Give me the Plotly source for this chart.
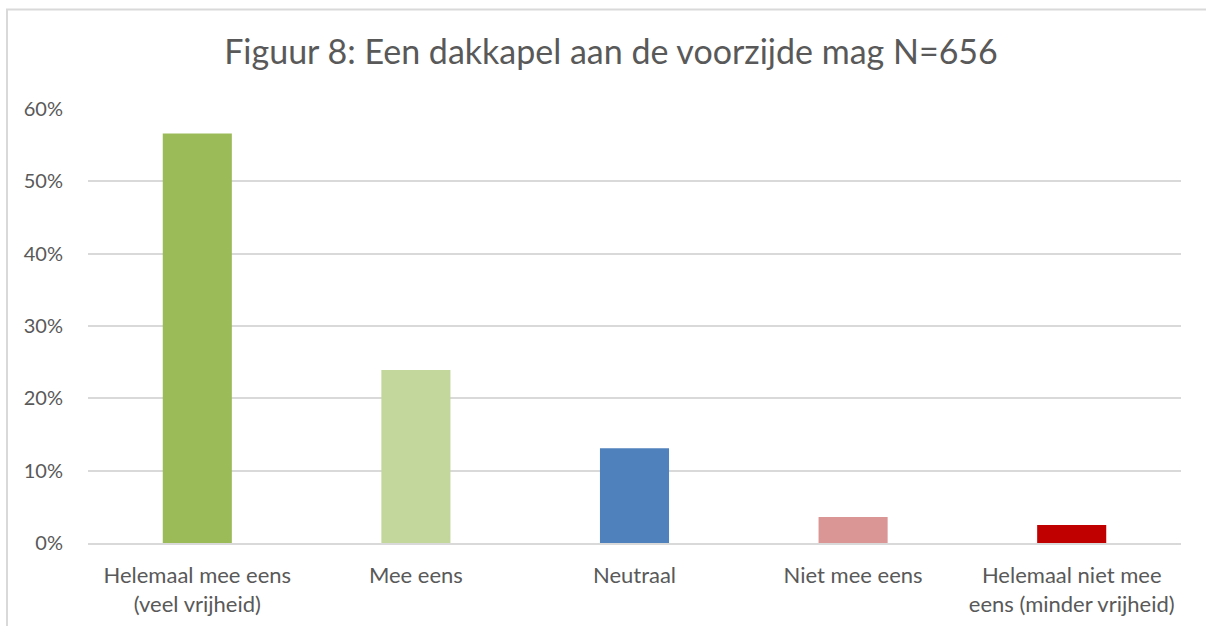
import plotly.graph_objects as go

categories = [
    "Helemaal mee eens<br>(veel vrijheid)",
    "Mee eens",
    "Neutraal",
    "Niet mee eens",
    "Helemaal niet mee<br>eens (minder vrijheid)",
]
shares = [0.566, 0.239, 0.131, 0.036, 0.025]
colors = ["#9BBB59", "#C3D69B", "#4F81BD", "#D99694", "#C00000"]
y_ticks = [0, 0.1, 0.2, 0.3, 0.4, 0.5, 0.6]

GREY = "#595959"
FONT = "Lato, Carlito, Calibri, sans-serif"

W, H = 1206, 626

fig = go.Figure(
    go.Bar(
        x=categories,
        y=shares,
        marker=dict(color=colors, line=dict(width=0)),
        hovertemplate="%{x}: %{y:.1%}<extra></extra>",
    )
)

fig.update_layout(
    width=W,
    height=H,
    margin=dict(l=88, r=25, t=109, b=83),
    paper_bgcolor="white",
    plot_bgcolor="white",
    bargap=0.684,
    showlegend=False,
    font=dict(family=FONT, color=GREY, size=20),
    title=dict(
        text="Figuur 8: Een dakkapel aan de voorzijde mag N=656",
        x=611 / W,
        xanchor="center",
        xref="container",
        y=1 - 52 / H,
        yanchor="middle",
        yref="container",
        font=dict(family=FONT, size=34, color=GREY),
    ),
    shapes=[
        # light grey chart frame (runs off the right and bottom edges)
        dict(
            type="rect",
            xref="paper",
            yref="paper",
            x0=(7 - 88) / 1093,
            x1=(1240 - 88) / 1093,
            y0=(543 - 700) / 434,
            y1=(543 - 9.5) / 434,
            line=dict(color="#D9D9D9", width=2),
            layer="below",
        )
    ],
)

fig.update_yaxes(
    range=[0, 0.6],
    tickvals=y_ticks,
    tickformat=".0%",
    showgrid=True,
    gridcolor="#D9D9D9",
    gridwidth=1.5,
    zeroline=False,
    showline=False,
    ticks="",
    ticklabelstandoff=24,
    tickfont=dict(size=20, color=GREY),
    automargin=False,
)
fig.update_xaxes(
    showline=True,
    linecolor="#D9D9D9",
    linewidth=1.5,
    ticks="",
    tickfont=dict(size=22, color=GREY),
    ticklabelstandoff=12,
    automargin=False,
)

# drop the browser's default 8px body margin so the figure fills the window
fig.write_html(
    "out.html",
    config={"displayModeBar": False},
    post_script="document.body.style.margin = '0px';",
)
